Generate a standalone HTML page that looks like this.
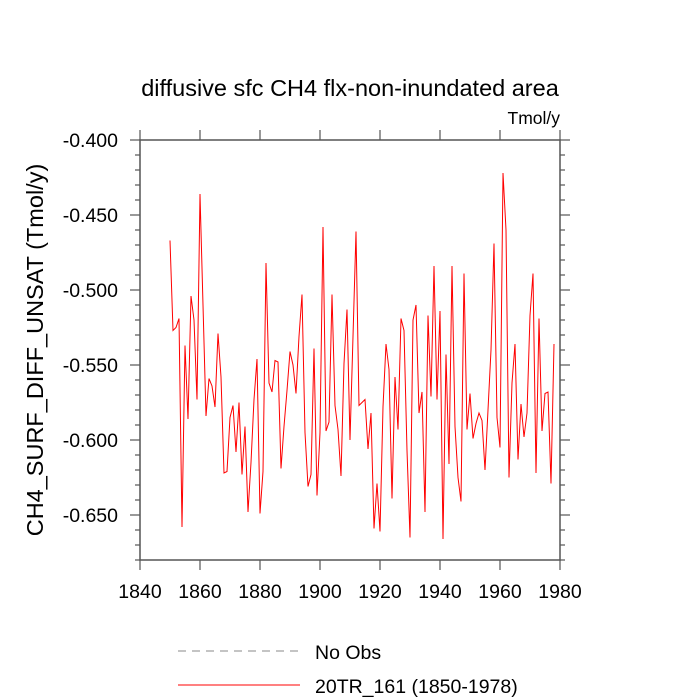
<!DOCTYPE html>
<html><head><meta charset="utf-8"><style>
body{margin:0;background:#fff}
svg{display:block;font-family:"Liberation Sans",sans-serif}
</style></head><body>
<svg id="chart" width="700" height="700">
<text x="350" y="96" font-size="23.5" text-anchor="middle">diffusive sfc CH4 flx-non-inundated area</text>
<text x="560" y="124" font-size="17.5" text-anchor="end">Tmol/y</text>
<text transform="translate(43,350) rotate(-90)" font-size="23.5" text-anchor="middle">CH4_SURF_DIFF_UNSAT  (Tmol/y)</text>
<g id="axes"></g>
<polyline id="series" fill="none" stroke="#ff0000" stroke-width="1"/>
<rect x="140" y="140" width="420" height="420" fill="none" stroke="#555" stroke-width="1.5"/>
<line x1="178" y1="651" x2="300" y2="651" stroke="#888" stroke-dasharray="8,6"/>
<text x="315" y="659" font-size="19.5">No Obs</text>
<line x1="178" y1="685" x2="300" y2="685" stroke="#ff0000"/>
<text x="315" y="693" font-size="19.5">20TR_161 (1850-1978)</text>
</svg>
<script>
const startYear = 1850;
const values = [-0.467,-0.527,-0.525,-0.519,-0.658,-0.537,-0.586,-0.504,-0.520,-0.573,
-0.436,-0.510,-0.584,-0.559,-0.564,-0.578,-0.529,-0.558,-0.622,-0.621,
-0.585,-0.577,-0.608,-0.575,-0.623,-0.591,-0.648,-0.615,-0.573,-0.546,
-0.649,-0.621,-0.482,-0.562,-0.568,-0.547,-0.548,-0.619,-0.591,-0.567,
-0.541,-0.550,-0.569,-0.531,-0.503,-0.595,-0.631,-0.623,-0.539,-0.637,
-0.595,-0.458,-0.594,-0.588,-0.503,-0.577,-0.593,-0.624,-0.549,-0.513,
-0.600,-0.531,-0.461,-0.577,-0.575,-0.573,-0.606,-0.582,-0.659,-0.629,
-0.661,-0.578,-0.536,-0.553,-0.639,-0.558,-0.593,-0.519,-0.527,-0.607,
-0.665,-0.520,-0.510,-0.582,-0.568,-0.648,-0.517,-0.571,-0.484,-0.573,
-0.514,-0.666,-0.543,-0.616,-0.484,-0.591,-0.625,-0.641,-0.489,-0.593,
-0.569,-0.599,-0.589,-0.582,-0.587,-0.620,-0.580,-0.540,-0.469,-0.585,
-0.605,-0.422,-0.460,-0.625,-0.562,-0.536,-0.613,-0.576,-0.598,-0.582,
-0.517,-0.489,-0.622,-0.519,-0.594,-0.569,-0.568,-0.629,-0.536];
const xTicks = [1840,1860,1880,1900,1920,1940,1960,1980];
const yTicks = [-0.400,-0.450,-0.500,-0.550,-0.600,-0.650];
const X0=140,X1=560,Y0=140,Y1=560,xmin=1840,xmax=1980,ymax=-0.4,ymin=-0.68;
const sx=v=>X0+(v-xmin)/(xmax-xmin)*(X1-X0);
const sy=v=>Y0+(ymax-v)/(ymax-ymin)*(Y1-Y0);
const NS="http://www.w3.org/2000/svg";
const ax=document.getElementById('axes');
function ln(x1,y1,x2,y2,name){const l=document.createElementNS(NS,'line');
l.setAttribute('x1',x1);l.setAttribute('y1',y1);l.setAttribute('x2',x2);l.setAttribute('y2',y2);
l.setAttribute('stroke','#555');l.setAttribute('stroke-width','1.2');


ax.appendChild(l);}
function tx(x,y,s,anchor,name){const t=document.createElementNS(NS,'text');
t.setAttribute('x',x);t.setAttribute('y',y);t.setAttribute('font-size','19.5');t.setAttribute('text-anchor',anchor);t.textContent=s;


ax.appendChild(t);}
xTicks.forEach(v=>{const x=sx(v);ln(x,Y1,x,Y1+10,'x-tick');ln(x,Y0,x,Y0-10,'x-tick-top');tx(x,Y1+38,String(v),'middle','x-tick-label');});
for(let k=0;k<=28;k++){const v=ymax-k*0.01;const y=sy(v);const major=k%5===0;const L=major?10:5;
ln(X0-L,y,X0,y,'y-tick');ln(X1,y,X1+L,y,'y-tick-right');}
yTicks.forEach(v=>{tx(X0-22,sy(v)+7,v.toFixed(3),'end','y-tick-label');});
document.getElementById('series').setAttribute('points',values.map((v,i)=>sx(startYear+i)+','+sy(v)).join(' '));
</script>
</body></html>
